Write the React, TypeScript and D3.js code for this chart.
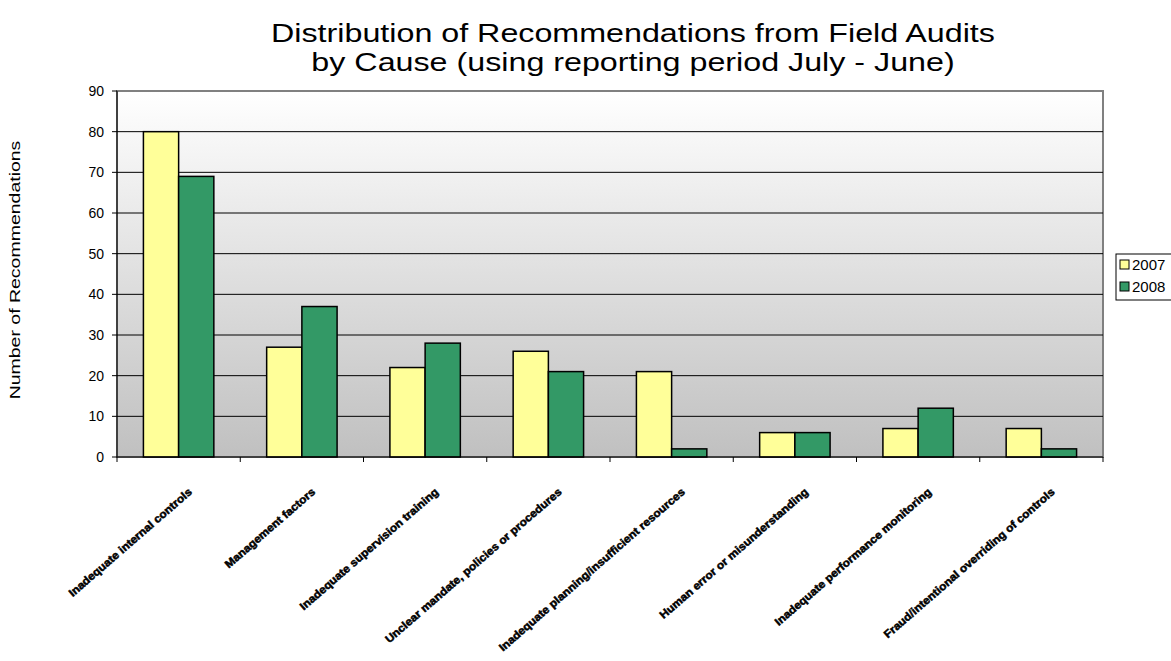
import React from "react";
import * as d3 from "d3";

const categories = [
  "Inadequate internal controls",
  "Management factors",
  "Inadequate supervision training",
  "Unclear mandate, policies or procedures",
  "Inadequate planning/insufficient resources",
  "Human error or misunderstanding",
  "Inadequate performance monitoring",
  "Fraud/intentional overriding of controls",
];
const seriesNames = ["2007", "2008"];
const values2007 = [80, 27, 22, 26, 21, 6, 7, 7];
const values2008 = [69, 37, 28, 21, 2, 6, 12, 2];
const yTicks = [0, 10, 20, 30, 40, 50, 60, 70, 80, 90];
const titleLines = [
  "Distribution of Recommendations from Field Audits",
  "by Cause (using reporting period July - June)",
];
const yLabel = "Number of Recommendations";

const W = 1171;
const H = 661;
const plot = { left: 117, right: 1103, top: 91, bottom: 457 };
const colors = ["#FFFF99", "#339966"];
const font = "'Liberation Sans', Arial, sans-serif";

export default function App() {
  const x = d3
    .scaleBand<string>()
    .domain(categories)
    .range([plot.left, plot.right])
    .paddingInner(0)
    .paddingOuter(0);
  // Excel gap width 150%: bar width w, 2w + 1.5w = band
  const bw = x.bandwidth() / 3.5;
  const y = d3.scaleLinear().domain([0, 90]).range([plot.bottom, plot.top]);
  const data = [values2007, values2008];

  return (
    <svg
      width={W}
      height={H}
      style={{ position: "absolute", left: 0, top: 0, background: "#fff" }}
      fontFamily={font}
    >
      <defs>
        <linearGradient id="bg" x1="0" y1="0" x2="0" y2="1">
          <stop offset="0" stopColor="#ffffff" />
          <stop offset="1" stopColor="#c0c0c0" />
        </linearGradient>
      </defs>
      {titleLines.map((t, i) => (
        <text
          key={i}
          transform={`translate(633,${42 + i * 29}) scale(1.29,1)`}
          textAnchor="middle"
          fontSize={25}
          fill="#000"
        >
          {t}
        </text>
      ))}
      <rect
        x={plot.left}
        y={plot.top}
        width={plot.right - plot.left}
        height={plot.bottom - plot.top}
        fill="url(#bg)"
        stroke="#808080"
        strokeWidth={2}
      />
      {yTicks.slice(1).map((t) => (
        <line
          key={t}
          x1={plot.left}
          x2={plot.right}
          y1={y(t)}
          y2={y(t)}
          stroke={t === 90 ? "#808080" : "#000"}
          strokeWidth={t === 90 ? 2 : 1}
        />
      ))}
      {categories.map((c, ci) =>
        data.map((vals, si) => {
          const x0 = (x(c) as number) + bw * 0.75 + si * bw;
          return (
            <rect
              key={c + si}
              x={x0}
              y={y(vals[ci])}
              width={bw}
              height={plot.bottom - y(vals[ci])}
              fill={colors[si]}
              stroke="#000"
              strokeWidth={1.5}
            />
          );
        })
      )}
      {/* y axis */}
      <line x1={plot.left} x2={plot.left} y1={plot.top} y2={plot.bottom} stroke="#000" strokeWidth={1} />
      {yTicks.map((t) => (
        <g key={t}>
          <line x1={plot.left - 5} x2={plot.left} y1={y(t)} y2={y(t)} stroke="#000" />
          <text x={plot.left - 13} y={y(t) + 5} textAnchor="end" fontSize={14}>
            {t}
          </text>
        </g>
      ))}
      {/* x axis */}
      <line x1={plot.left} x2={plot.right} y1={plot.bottom} y2={plot.bottom} stroke="#000" />
      {categories.concat(["end"]).map((c, i) => {
        const xx = i < categories.length ? (x(c) as number) : plot.right;
        return <line key={"t" + i} x1={xx} x2={xx} y1={plot.bottom} y2={plot.bottom + 5} stroke="#000" />;
      })}
      {categories.map((c) => {
        const cx = (x(c) as number) + x.bandwidth() / 2 + 14;
        const cy = 493;
        return (
          <text
            key={c}
            transform={`translate(${cx},${cy}) rotate(-41) scale(1.08,1)`}
            textAnchor="end"
            fontSize={11}
            fontWeight="bold"
            stroke="#000"
            strokeWidth={0.5}
          >
            {c}
          </text>
        );
      })}
      <text
        transform={`translate(20,${270}) rotate(-90) scale(1.3,1)`}
        textAnchor="middle"
        fontSize={15}
      >
        {yLabel}
      </text>
      {/* legend */}
      <rect x={1116} y={254} width={60} height={46} fill="#fff" stroke="#000" strokeWidth={1} />
      {seriesNames.map((s, i) => (
        <g key={s}>
          <rect x={1120} y={260 + i * 22} width={9} height={9} fill={colors[i]} stroke="#000" />
          <text x={1132} y={270 + i * 22} fontSize={15}>
            {s}
          </text>
        </g>
      ))}
    </svg>
  );
}
